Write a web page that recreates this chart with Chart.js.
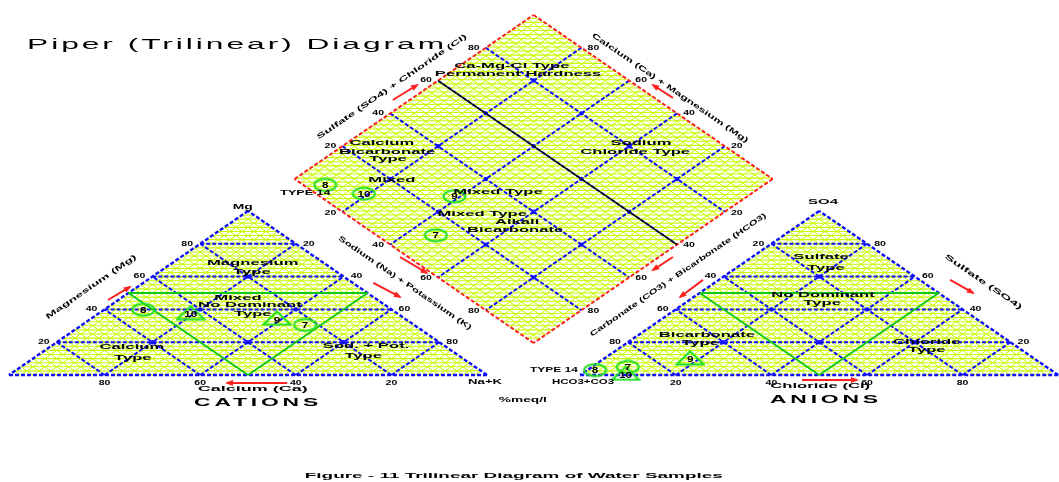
<!DOCTYPE html>
<html>
<head>
<meta charset="utf-8">
<title>Piper (Trilinear) Diagram</title>
<style>
  html, body { margin: 0; padding: 0; background: #ffffff; }
  canvas { display: block; }
</style>
<script src="https://cdn.jsdelivr.net/npm/chart.js@4.4.1/dist/chart.umd.min.js"></script>
</head>
<body>
<canvas id="piper" width="1059" height="482"></canvas>
<script>
// ---- geometry of the trilinear plot (percent units, triangle side = 100) ----
const GAP = 19.5;                 // horizontal gap between cation and anion triangles
const H = Math.sqrt(3) / 2;       // height of a unit equilateral triangle

// ---- water sample analyses, % of total meq/l ----
const sampleIds     = ['7', '8', '9', '10'];
const caPct         = [22.8, 52.0, 26.6, 43.0];
const mgPct         = [30.5, 39.8, 34.7, 38.0];
const naKPct        = [46.7,  8.2, 38.7, 19.0];
const hco3Pct       = [87.6, 95.4, 71.8, 90.0];
const so4Pct        = [ 4.9,  3.0, 10.4,  1.0];
const clPct         = [ 7.5,  1.6, 17.8,  9.0];
const sampleSymbols = ['ellipse', 'ellipse', 'triangle', 'triangle'];

// ---- grid ----
const majorTicks = [20, 40, 60, 80];
const minorStep = 2.5;
const mixLine = 40;               // HCO3 % reference line across the diamond

// ---- ternary -> plane ----
function cat(ca, mg, na)    { return { x: na + mg / 2, y: mg * H }; }
function ani(hco3, so4, cl) { return { x: 100 + GAP + cl + so4 / 2, y: so4 * H }; }
function dia(na, hco3) {
  const t = 200 + GAP - hco3 - na;
  return { x: na + t / 2, y: t * H };
}

// ---- line styles ----
const LIME  = { c: '#c8fa00', w: 1.0, o: 60 };
const LIMEH = { c: '#c8fa00', w: 1.1, o: 61 };
const BLUE  = { c: '#1010ff', w: 2, d: [4, 2], o: 40 };
const EDGE  = { c: '#1010ff', w: 2.4, d: [4, 2], o: 35 };
const GREEN = { c: '#12c812', w: 2, o: 30 };
const RED   = { c: '#ff2020', w: 2, d: [4, 2], o: 20 };
const BLACK = { c: '#111111', w: 1.6, o: 15 };

const datasets = [];
function seg(p, q, st) {
  datasets.push({
    data: [p, q], showLine: true, pointRadius: 0, pointHoverRadius: 0,
    borderColor: st.c, borderWidth: st.w, borderDash: st.d || [],
    borderCapStyle: 'butt', fill: false, tension: 0, order: st.o
  });
}

const nodes = [];                 // crossings of the 20 % grid
function triangleGrid(T) {
  for (let k = 1; k < 100 / minorStep; k++) {
    const p = k * minorStep;
    seg(T(100 - p, p, 0), T(0, p, 100 - p), LIMEH);
    seg(T(100 - p, 0, p), T(0, 100 - p, p), LIME);
    seg(T(p, 0, 100 - p), T(p, 100 - p, 0), LIME);
  }
  majorTicks.forEach(p => {
    seg(T(100 - p, p, 0), T(0, p, 100 - p), BLUE);
    seg(T(100 - p, 0, p), T(0, 100 - p, p), BLUE);
    seg(T(p, 0, 100 - p), T(p, 100 - p, 0), BLUE);
  });
  majorTicks.forEach(a => majorTicks.forEach(b => {
    if (a + b < 100) nodes.push(T(a, b, 100 - a - b));
  }));
  seg(T(50, 50, 0), T(0, 50, 50), GREEN);
  seg(T(50, 50, 0), T(50, 0, 50), GREEN);
  seg(T(0, 50, 50), T(50, 0, 50), GREEN);
  seg(T(100, 0, 0), T(0, 0, 100), EDGE);
  seg(T(0, 0, 100), T(0, 100, 0), EDGE);
  seg(T(0, 100, 0), T(100, 0, 0), EDGE);
}
triangleGrid(cat);
triangleGrid(ani);

// diamond field
for (let k = 1; k < 100 / minorStep; k++) {
  const p = k * minorStep;
  seg(dia(p, 0), dia(p, 100), LIME);
  seg(dia(0, p), dia(100, p), LIME);
}
for (let k = Math.ceil(GAP / minorStep); k * minorStep < 200 + GAP; k++) {
  const t = k * minorStep;
  if (t <= GAP) continue;
  if (t <= 100 + GAP) seg(dia(100 + GAP - t, 100), dia(100, 100 + GAP - t), LIMEH);
  else seg(dia(0, 200 + GAP - t), dia(200 + GAP - t, 0), LIMEH);
}
majorTicks.forEach(p => {
  seg(dia(p, 0), dia(p, 100), BLUE);
  seg(dia(0, p), dia(100, p), BLUE);
});
majorTicks.forEach(a => majorTicks.forEach(b => nodes.push(dia(a, b))));
seg(dia(0, mixLine), dia(100, mixLine), BLACK);
seg(dia(100, 100), dia(0, 100), RED);
seg(dia(0, 100), dia(0, 0), RED);
seg(dia(0, 0), dia(100, 0), RED);
seg(dia(100, 0), dia(100, 100), RED);

datasets.push({ data: nodes, showLine: false, pointRadius: 2.2, pointHoverRadius: 2.2,
  pointBackgroundColor: '#1010ff', pointBorderWidth: 0, order: 38 });

// sample symbols
function symbolCanvas(kind) {
  const c = document.createElement('canvas');
  const w = kind === 'triangle' ? 30 : 25, h = kind === 'triangle' ? 16 : 15;
  c.width = w; c.height = h;
  const g = c.getContext('2d');
  g.strokeStyle = '#1fe01f'; g.lineWidth = 2;
  g.beginPath();
  if (kind === 'triangle') {
    g.moveTo(w / 2, 1.5); g.lineTo(w - 1.5, h - 1.5); g.lineTo(1.5, h - 1.5); g.closePath();
  } else {
    g.ellipse(w / 2, h / 2, w / 2 - 1.5, h / 2 - 1.5, 0, 0, Math.PI * 2);
  }
  g.stroke();
  return c;
}
const ellipseSym = symbolCanvas('ellipse');
const triangleSym = symbolCanvas('triangle');
const symFor = k => (k === 'triangle' ? triangleSym : ellipseSym);

const markerStyle = { showLine: false, pointRadius: 9, pointHoverRadius: 9, order: 0 };
datasets.push(Object.assign({ label: 'cations',
  data: sampleIds.map((_, i) => cat(caPct[i], mgPct[i], naKPct[i])),
  pointStyle: sampleSymbols.map(symFor) }, markerStyle));
datasets.push(Object.assign({ label: 'anions',
  data: sampleIds.map((_, i) => ani(hco3Pct[i], so4Pct[i], clPct[i])),
  pointStyle: sampleSymbols.map(symFor) }, markerStyle));
datasets.push(Object.assign({ label: 'diamond',
  data: sampleIds.map((_, i) => dia(naKPct[i], hco3Pct[i])),
  pointStyle: sampleIds.map(() => ellipseSym) }, markerStyle));

// ---- annotation text (positions in plot units) ----
const FONT = '"Liberation Sans", Arial, sans-serif';
const zoneLabels = [
  ['Magnesium', 51.0, 59.1], ['Type', 50.8, 54.4],
  ['Mixed', 47.9, 40.9], ['No Dominant', 50.4, 37.0], ['Type', 51.0, 32.4],
  ['Calcium', 25.7, 14.8], ['Type', 25.9, 9.0],
  ['Sod. + Pot.', 74.7, 15.3], ['Type', 74.1, 10.0],
  ['Sulfate', 169.9, 62.3], ['Type', 170.9, 56.5],
  ['No Dominant', 170.3, 42.2], ['Type', 170.1, 38.0],
  ['Bicarbonate', 146.0, 21.1], ['Type', 144.6, 16.9],
  ['Chloride', 192.0, 17.4], ['Type', 192.0, 13.2],
  ['Ca-Mg-Cl Type', 105.2, 163.1], ['Permanent Hardness', 106.5, 158.9],
  ['Calcium', 78.0, 122.5], ['Bicarbonate', 79.1, 117.7], ['Type', 79.3, 114.0],
  ['Sodium', 132.2, 122.5], ['Chloride Type', 131.0, 117.7],
  ['Mixed Type', 102.3, 96.6], ['Mixed', 80.1, 103.0],
  ['Mixed Type', 99.0, 85.0], ['Alkali', 106.3, 80.8], ['Bicarbonate', 105.9, 76.6]
];
const axisTitles = [
  ['Magnesium (Mg)', 17.2, 46.5, -1, 108],
  ['Sodium (Na) + Potassium (K)', 82.8, 48.6, 1, 160],
  ['Sulfate (SO4) + Chloride (Cl)', 80.1, 152.1, -1, 180],
  ['Calcium (Ca) + Magnesium (Mg)', 138.3, 151.5, 1, 188],
  ['Carbonate (CO3) + Bicarbonate (HCO3)', 140.0, 52.8, -1, 212],
  ['Sulfate (SO4)', 203.8, 49.1, 1, 92]
];
const plainLabels = [
  ['Mg', 48.9, 88.7, 20], ['SO4', 170.3, 91.3, 30],
  ['Na+K', 99.6, -3.7, 34], ['HCO3+CO3', 120.1, -3.7, 62],
  ['%meq/l', 107.5, -13.2, 48],
  ['Calcium (Ca)', 51.0, -7.4, 110], ['Chloride (Cl)', 169.7, -5.6, 100],
  ['TYPE 14', 62.0, 96.4, 50], ['TYPE 14', 114.0, 2.6, 48]
];
const arrows = [
  [58.2, -4.2, 45.6, -4.2], [20.7, 39.6, 25.3, 46.5], [76.2, 48.6, 81.8, 41.2],
  [80.3, 145.2, 85.4, 153.1], [138.9, 146.3, 134.7, 153.1],
  [81.8, 62.3, 87.4, 53.9], [138.9, 62.3, 134.7, 55.4],
  [145.2, 50.2, 140.4, 41.2], [196.9, 50.2, 201.7, 43.3], [165.9, -2.6, 177.4, -2.6]
];
const SIDE_ANGLE = 34.5;          // on-screen slope of the triangle sides, degrees

function drawText(ctx, s, px, py, o) {
  ctx.save();
  ctx.font = o.font;
  ctx.letterSpacing = (o.ls || 0) + 'px';
  ctx.fillStyle = o.color || '#000';
  ctx.textBaseline = 'middle';
  ctx.textAlign = o.align || 'center';
  const mw = ctx.measureText(s).width;
  const sx = o.w ? o.w / mw : (o.sx || 1);
  ctx.translate(px, py);
  if (o.rot) ctx.rotate(o.rot * Math.PI / 180);
  ctx.scale(sx, o.sy || 1);
  ctx.fillText(s, 0, 0);
  ctx.restore();
}

const piperText = {
  id: 'piperText',
  afterDatasetsDraw(chart) {
    const ctx = chart.ctx;
    const xs = chart.scales.x, ys = chart.scales.y;
    const P = pt => [xs.getPixelForValue(pt.x), ys.getPixelForValue(pt.y)];

    // zone names
    zoneLabels.forEach(([s, x, y]) => {
      const [px, py] = P({ x, y });
      drawText(ctx, s, px, py, { font: 'bold 9px ' + FONT, sx: 1.85, sy: 0.85 });
    });
    // axis titles along the sides
    axisTitles.forEach(([s, x, y, dir, w]) => {
      const [px, py] = P({ x, y });
      drawText(ctx, s, px, py, { font: 'bold 8px ' + FONT, w, sy: 0.9, rot: dir * SIDE_ANGLE });
    });
    plainLabels.forEach(([s, x, y, w]) => {
      const [px, py] = P({ x, y });
      drawText(ctx, s, px, py, { font: 'bold 9px ' + FONT, w, sy: 0.85 });
    });

    // tick numbers
    const tick = (pt, s, dx, dy) => {
      const [px, py] = P(pt);
      drawText(ctx, s, px + dx, py + dy, { font: 'bold 7px ' + FONT, sx: 1.5, sy: 0.9 });
    };
    majorTicks.forEach(p => {
      tick(cat(100 - p, 0, p), String(100 - p), 0, 8);
      tick(cat(100 - p, p, 0), String(p), -13, 0);
      tick(cat(0, p, 100 - p), String(100 - p), 13, 0);
      tick(ani(100 - p, 0, p), String(p), 0, 8);
      tick(ani(100 - p, p, 0), String(100 - p), -13, 0);
      tick(ani(0, p, 100 - p), String(p), 13, 0);
      tick(dia(p, 100), String(p), -12, 1);
      tick(dia(0, p), String(100 - p), -12, 0);
      tick(dia(p, 0), String(100 - p), 12, 0);
      tick(dia(100, p), String(p), 12, 1);
    });

    // direction arrows
    ctx.save();
    ctx.strokeStyle = '#ff2020'; ctx.fillStyle = '#ff2020'; ctx.lineWidth = 2;
    arrows.forEach(([x1, y1, x2, y2]) => {
      const [a, b] = P({ x: x1, y: y1 });
      const [c, d] = P({ x: x2, y: y2 });
      ctx.beginPath(); ctx.moveTo(a, b); ctx.lineTo(c, d); ctx.stroke();
      const ang = Math.atan2(d - b, c - a);
      ctx.beginPath();
      ctx.moveTo(c + 2 * Math.cos(ang), d + 2 * Math.sin(ang));
      ctx.lineTo(c - 6 * Math.cos(ang) + 3 * Math.sin(ang), d - 6 * Math.sin(ang) - 3 * Math.cos(ang));
      ctx.lineTo(c - 6 * Math.cos(ang) - 3 * Math.sin(ang), d - 6 * Math.sin(ang) + 3 * Math.cos(ang));
      ctx.closePath(); ctx.fill();
    });
    ctx.restore();

    // sample numbers on the symbols
    [0, 1, 2].forEach(di => {
      const meta = chart.getDatasetMeta(datasets.length - 3 + di);
      meta.data.forEach((el, j) => {
        const tri = di < 2 && sampleSymbols[j] === 'triangle';
        drawText(ctx, sampleIds[j], el.x, el.y + (tri ? 2 : 0.5),
          { font: 'bold 9px ' + FONT, sx: 1.3 });
      });
    });

    // headings
    const [tx, ty] = P({ x: 3.77, y: 174.2 });
    drawText(ctx, 'Piper (Trilinear) Diagram', tx, ty,
      { font: '16px ' + FONT, ls: 1.5, w: 420, align: 'left', sy: 0.9 });
    const [c1x, c1y] = P({ x: 52.1, y: -14.8 });
    drawText(ctx, 'CATIONS', c1x, c1y, { font: 'bold 12px ' + FONT, ls: 2, w: 128, sy: 0.9 });
    const [c2x, c2y] = P({ x: 170.9, y: -13.4 });
    drawText(ctx, 'ANIONS', c2x, c2y, { font: 'bold 12px ' + FONT, ls: 2, w: 112, sy: 0.9 });
    const [fx, fy] = P({ x: 105.6, y: -53.3 });
    drawText(ctx, 'Figure - 11 Trilinear Diagram of Water Samples', fx, fy,
      { font: 'bold 9px ' + FONT, w: 418, sy: 0.8 });
  }
};

new Chart(document.getElementById('piper'), {
  type: 'scatter',
  data: { datasets },
  options: {
    responsive: false,
    devicePixelRatio: 1,
    animation: false,
    events: [],
    layout: { padding: 0, autoPadding: false },
    plugins: { legend: { display: false }, tooltip: { enabled: false }, title: { display: false } },
    scales: {
      x: { type: 'linear', min: -1.883, max: 219.665, display: false },
      y: { type: 'linear', min: -56.50, max: 197.99, display: false }
    }
  },
  plugins: [piperText]
});
</script>
</body>
</html>
